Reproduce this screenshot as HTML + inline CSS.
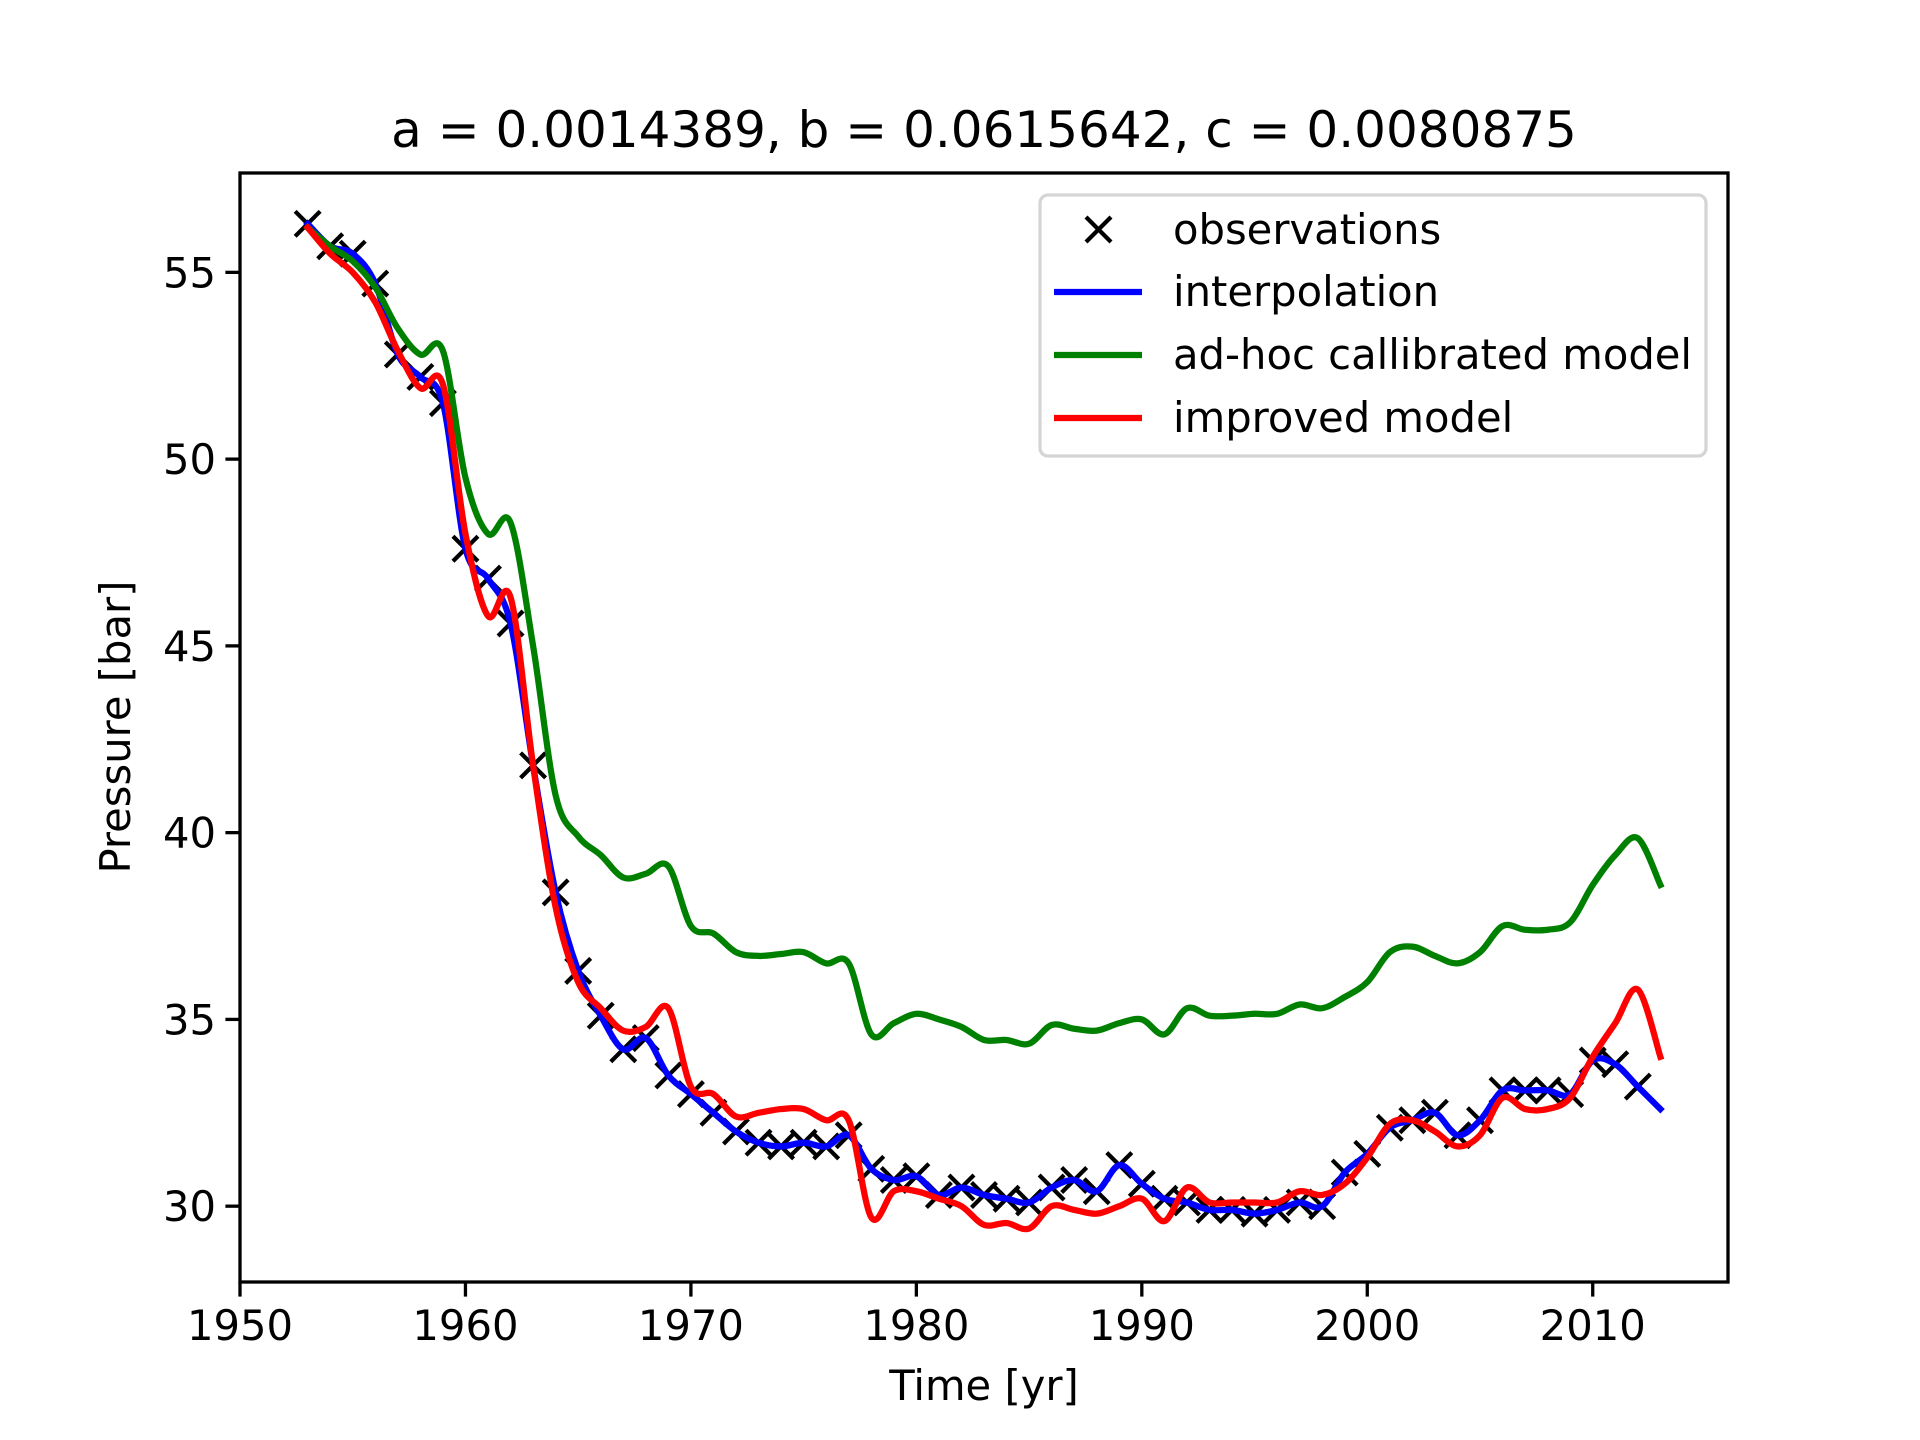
<!DOCTYPE html>
<html><head><meta charset="utf-8"><style>
html,body{margin:0;padding:0;background:#fff}
svg{display:block}
text{font-family:"DejaVu Sans","Liberation Sans",sans-serif;fill:#000}
</style></head><body>
<svg id="chart" width="1920" height="1440" viewBox="0 0 1920 1440" xmlns="http://www.w3.org/2000/svg">
<rect width="1920" height="1440" fill="#fff"/>
<g id="plot"></g>
</svg>
<script>
const years=[];for(let y=1953;y<=2012;y++)years.push(y);
const observations=[56.3,55.7,55.5,54.7,52.8,52.2,51.5,47.6,46.8,45.6,41.8,38.4,36.3,35.1,34.2,34.5,33.5,33.0,32.5,32.0,31.7,31.6,31.7,31.6,31.9,31.0,30.7,30.8,30.3,30.5,30.3,30.2,30.1,30.5,30.7,30.4,31.1,30.6,30.2,30.1,29.9,29.9,29.8,29.9,30.1,30.0,30.9,31.4,32.1,32.3,32.5,31.9,32.3,33.1,33.1,33.1,33.0,33.9,33.8,33.2];
const modelYears=[];for(let y=1953;y<=2013;y++)modelYears.push(y);
const interpolation=observations.concat([32.6]);
const adhoc=[56.2,55.7,55.3,54.6,53.5,52.8,52.9,49.5,48.0,48.3,45.0,41.0,39.9,39.4,38.8,38.9,39.1,37.5,37.3,36.8,36.7,36.75,36.8,36.5,36.5,34.6,34.9,35.15,35.0,34.8,34.45,34.45,34.35,34.85,34.75,34.7,34.9,35.0,34.6,35.3,35.1,35.1,35.15,35.15,35.4,35.3,35.6,36.0,36.8,36.95,36.7,36.5,36.8,37.5,37.4,37.4,37.6,38.6,39.4,39.85,38.6];
const improved=[56.2,55.5,55.0,54.2,52.9,51.9,52.0,48.0,45.8,46.3,41.8,38.0,36.0,35.3,34.7,34.8,35.3,33.2,33.0,32.4,32.5,32.6,32.6,32.3,32.3,29.7,30.4,30.4,30.2,30.0,29.5,29.55,29.4,30.0,29.9,29.8,30.0,30.2,29.6,30.5,30.1,30.1,30.1,30.1,30.4,30.3,30.6,31.3,32.2,32.3,32.0,31.6,31.9,32.9,32.6,32.6,32.9,34.0,34.9,35.8,34.0];
const xTicks=[1950,1960,1970,1980,1990,2000,2010];
const yTicks=[30,35,40,45,50,55];

const L=240,R=1728,T=173,B=1282,x0=1950,x1=2016,y0=27.97,y1=57.66;
const X=v=>L+(v-x0)/(x1-x0)*(R-L);
const Y=v=>B-(v-y0)/(y1-y0)*(B-T);
const NS="http://www.w3.org/2000/svg";
const g=document.getElementById('plot');
function mk(tag,attrs,parent){const e=document.createElementNS(NS,tag);for(const k in attrs)e.setAttribute(k,attrs[k]);(parent||g).appendChild(e);return e;}
function smooth(xs,ys){const p=xs.map((x,i)=>[X(x),Y(ys[i])]);let d='M'+p[0][0]+','+p[0][1];
for(let i=0;i<p.length-1;i++){const a=p[i-1]||p[i],b=p[i],c=p[i+1],e=p[i+2]||c;
d+=' C'+(b[0]+(c[0]-a[0])/6)+','+(b[1]+(c[1]-a[1])/6)+' '+(c[0]-(e[0]-b[0])/6)+','+(c[1]-(e[1]-b[1])/6)+' '+c[0]+','+c[1];}return d;}
const clip=mk('clipPath',{id:'cp'});mk('rect',{x:L,y:T,width:R-L,height:B-T},clip);
const series=[['adhoc-line',adhoc,'#008000'],['improved-line',improved,'#ff0000'],['interpolation-line',interpolation,'#0000ff']];
// order: obs markers drawn first in matplotlib, then lines
const mg=mk('g',{'clip-path':'url(#cp)'});


years.forEach((yr,i)=>{const cx=X(yr),cy=Y(observations[i]),s=12.5;
const m=mk('path',{d:`M${cx-s},${cy-s}L${cx+s},${cy+s}M${cx-s},${cy+s}L${cx+s},${cy-s}`,stroke:'#000','stroke-width':4.2,fill:'none'},mg);

});
[['interpolation-line',interpolation,'#0000ff'],['adhoc-line',adhoc,'#008000'],['improved-line',improved,'#ff0000']].forEach(s=>{
const p=mk('path',{d:smooth(modelYears,s[1]),stroke:s[2],'stroke-width':6.25,fill:'none','stroke-linejoin':'round','stroke-linecap':'square','clip-path':'url(#cp)'});

});
// axes frame
const fr=mk('rect',{x:L,y:T,width:R-L,height:B-T,fill:'none',stroke:'#000','stroke-width':3.3});


xTicks.forEach(t=>{const x=X(t);mk('line',{x1:x,x2:x,y1:B,y2:B+14.6,stroke:'#000','stroke-width':3.3});
const tx=mk('text',{x:x,y:B+58,'font-size':41.7,'text-anchor':'middle'});tx.textContent=t;

});
yTicks.forEach(t=>{const y=Y(t);mk('line',{x1:L,x2:L-14.6,y1:y,y2:y,stroke:'#000','stroke-width':3.3});
const tx=mk('text',{x:L-24,y:y+15,'font-size':41.7,'text-anchor':'end'});tx.textContent=t;

});
</script>
<svg style="position:absolute;left:0;top:0" width="1920" height="1440">
<text x="984" y="147" font-size="50" text-anchor="middle">a = 0.0014389, b = 0.0615642, c = 0.0080875</text>
<text x="984" y="1400" font-size="41.7" text-anchor="middle">Time [yr]</text>
<text x="0" y="0" font-size="41.7" text-anchor="middle" transform="translate(130,727) rotate(-90)">Pressure [bar]</text>
<g>
<rect x="1040" y="195" width="666" height="261" rx="8" fill="#fff" fill-opacity="0.8" stroke="#d5d5d5" stroke-width="3.3"/>
<path d="M1086,217L1111,242M1086,242L1111,217" stroke="#000" stroke-width="4.2"/>
<text x="1173" y="244" font-size="41.7">observations</text>
<line x1="1054" x2="1142" y1="292" y2="292" stroke="#0000ff" stroke-width="6.25"/>
<text x="1173" y="306" font-size="41.7">interpolation</text>
<line x1="1054" x2="1142" y1="355" y2="355" stroke="#008000" stroke-width="6.25"/>
<text x="1173" y="369" font-size="41.7">ad-hoc callibrated model</text>
<line x1="1054" x2="1142" y1="418" y2="418" stroke="#ff0000" stroke-width="6.25"/>
<text x="1173" y="432" font-size="41.7">improved model</text>
</g>
</svg>
</body></html>
